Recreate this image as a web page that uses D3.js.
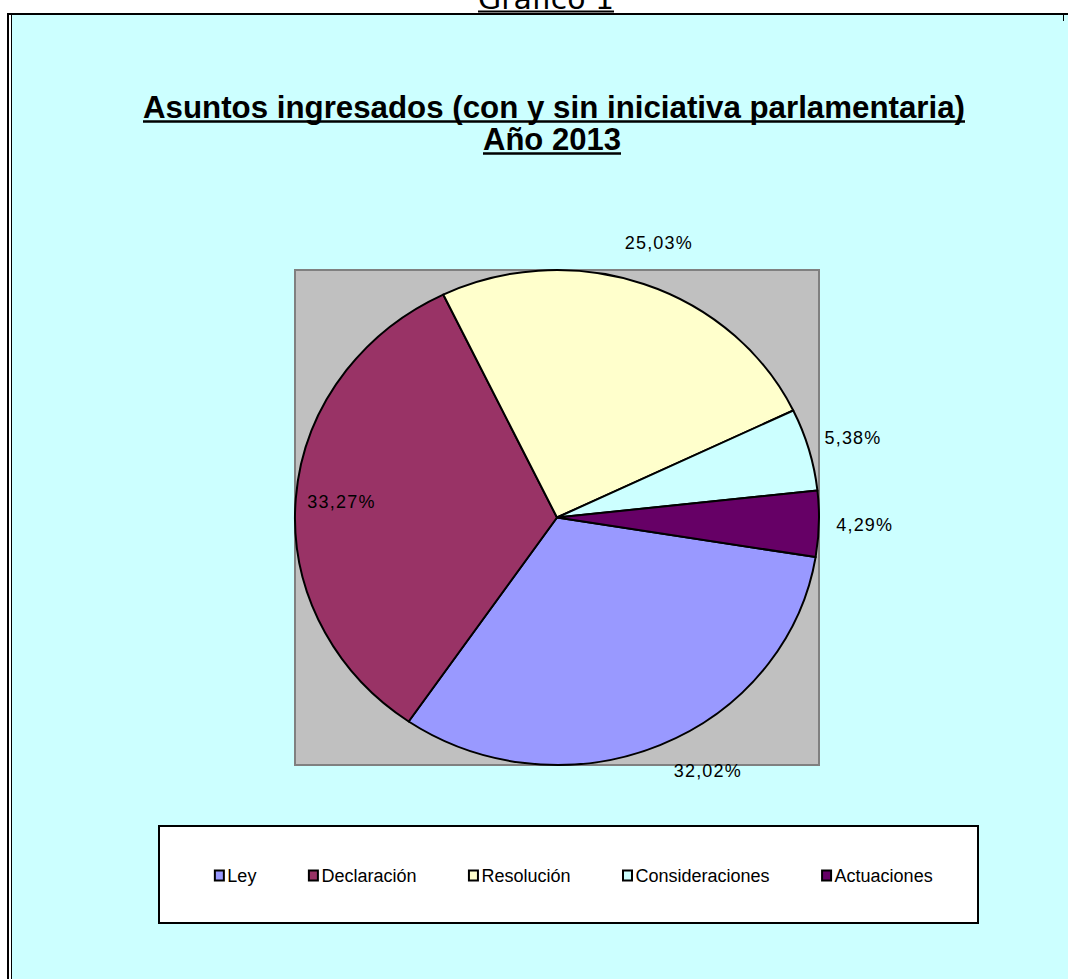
<!DOCTYPE html>
<html>
<head>
<meta charset="utf-8">
<script src="https://cdn.jsdelivr.net/npm/d3@7"></script>
<style>
  html, body { margin: 0; padding: 0; background: #ffffff; }
  svg { display: block; }
</style>
</head>
<body>
<svg id="chart" width="1068" height="979"></svg>
<script>
// ---------- data ----------
const categories = ["Ley", "Declaración", "Resolución", "Consideraciones", "Actuaciones"];
const values = [32.02, 33.27, 25.03, 5.38, 4.29];
const valueLabels = ["32,02%", "33,27%", "25,03%", "5,38%", "4,29%"];
const colors = ["#9999FF", "#993366", "#FFFFCC", "#CCFFFF", "#660066"];
const pageTitle = "Gráfico 1";
const titleLines = ["Asuntos ingresados (con y sin iniciativa parlamentaria)", "Año 2013"];
const insideLabels = ["Declaración"];

// ---------- layout ----------
const W = 1068, H = 979;
const svg = d3.select("#chart");

// frame
svg.append("rect").attr("x", 11).attr("y", 15).attr("width", W - 11).attr("height", H - 15).attr("fill", "#CCFFFF");
svg.append("line").attr("x1", 8).attr("x2", 8).attr("y1", 13).attr("y2", H).attr("stroke", "#000").attr("stroke-width", 2);
svg.append("line").attr("x1", 11.5).attr("x2", 11.5).attr("y1", 15).attr("y2", H).attr("stroke", "#000").attr("stroke-width", 1);
svg.append("line").attr("x1", 7).attr("x2", W).attr("y1", 14).attr("y2", 14).attr("stroke", "#000").attr("stroke-width", 2);
svg.append("line").attr("x1", 1063.5).attr("x2", 1063.5).attr("y1", 14).attr("y2", 21).attr("stroke", "#000").attr("stroke-width", 1);

// helper: underlined text
function underlined(txt, x, y, opts) {
  const t = svg.append("text")
    .attr("x", x).attr("y", y)
    .attr("text-anchor", "middle")
    .attr("font-family", opts.family)
    .attr("font-size", opts.size)
    .attr("font-weight", opts.weight || "normal")
    .attr("fill", "#000")
    .text(txt);
  if (opts.width) t.attr("textLength", opts.width).attr("lengthAdjust", "spacingAndGlyphs");
  const w = opts.width || t.node().getComputedTextLength();
  svg.append("line")
    .attr("x1", x - w / 2).attr("x2", x + w / 2)
    .attr("y1", y + opts.uOff).attr("y2", y + opts.uOff)
    .attr("stroke", "#000").attr("stroke-width", opts.uW);
  return t;
}

underlined(pageTitle, 546, 9, { family: "'DejaVu Sans', Verdana, sans-serif", size: 29, width: 136, uOff: 2.5, uW: 2 });
underlined(titleLines[0], 554, 118, { family: "'Liberation Sans', Arial, sans-serif", size: 31, weight: "bold", width: 822, uOff: 3.5, uW: 2.5 });
underlined(titleLines[1], 552, 150, { family: "'Liberation Sans', Arial, sans-serif", size: 31, weight: "bold", width: 138, uOff: 3.5, uW: 2.5 });

// plot area
const plot = { x: 295, y: 270, w: 524, h: 495 };
svg.append("rect")
  .attr("x", plot.x).attr("y", plot.y).attr("width", plot.w).attr("height", plot.h)
  .attr("fill", "#C0C0C0").attr("stroke", "#808080").attr("stroke-width", 2);

const rx = plot.w / 2, ry = plot.h / 2;
const cx = plot.x + rx, cy = plot.y + ry;
const k = ry / rx;

const startDeg = 99.2;
const pie = d3.pie().sort(null).value(d => d.v)
  .startAngle(startDeg * Math.PI / 180)
  .endAngle(startDeg * Math.PI / 180 + 2 * Math.PI);
const data = categories.map((c, i) => ({ c, v: values[i], lab: valueLabels[i], col: colors[i] }));
const arcs = pie(data);
const arc = d3.arc().innerRadius(0).outerRadius(rx);

const g = svg.append("g").attr("transform", `translate(${cx},${cy}) scale(1,${k})`);
g.selectAll("path").data(arcs).join("path")
  .attr("d", arc)
  .attr("fill", d => d.data.col)
  .attr("stroke", "#000")
  .attr("stroke-width", 2)
  .attr("vector-effect", "non-scaling-stroke")
  .attr("stroke-linejoin", "round");

// data labels
const outR = rx * 1.175, inR = rx * 0.825;
const maxY = plot.y + plot.h + 6;
arcs.forEach(a => {
  const mid = (a.startAngle + a.endAngle) / 2;
  const inside = insideLabels.includes(a.data.c);
  const R = inside ? inR : outR;
  let x = cx + R * Math.sin(mid);
  let y = cy - R * Math.cos(mid) * k;
  if (y > maxY) {
    const dyU = (maxY - cy) / k;
    const dxU = Math.sqrt(Math.max(0, R * R - dyU * dyU));
    x = cx + Math.sign(Math.sin(mid)) * dxU;
    y = maxY;
  }
  svg.append("text")
    .attr("x", x).attr("y", y)
    .attr("text-anchor", "middle")
    .attr("dominant-baseline", "central")
    .attr("font-family", "'Liberation Sans', Arial, sans-serif")
    .attr("font-size", 18)
    .attr("letter-spacing", 1.2)
    .attr("fill", "#000")
    .text(a.data.lab);
});

// legend
const lg = { x: 159, y: 826, w: 819, h: 97 };
svg.append("rect").attr("x", lg.x).attr("y", lg.y).attr("width", lg.w).attr("height", lg.h)
  .attr("fill", "#fff").attr("stroke", "#000").attr("stroke-width", 2);

const legendG = svg.append("g");
const sw = 9, swGap = 4, itemGap = 52;
const items = [];
let xPos = 0;
data.forEach(d => {
  const it = legendG.append("g");
  it.append("rect").attr("x", 0.5).attr("y", -5).attr("width", sw).attr("height", 10)
    .attr("fill", d.col).attr("stroke", "#000").attr("stroke-width", 2);
  const t = it.append("text").attr("x", sw + swGap).attr("y", 0)
    .attr("dominant-baseline", "central")
    .attr("font-family", "'Liberation Sans', Arial, sans-serif")
    .attr("font-size", 18).attr("fill", "#000").text(d.c);
  const w = sw + swGap + t.node().getComputedTextLength();
  items.push({ it, x: xPos });
  xPos += w + itemGap;
});
const total = xPos - itemGap;
const startX = lg.x + (lg.w - total) / 2 + 5;
items.forEach(o => o.it.attr("transform", `translate(${startX + o.x},${lg.y + lg.h / 2 + 1})`));
</script>
</body>
</html>
